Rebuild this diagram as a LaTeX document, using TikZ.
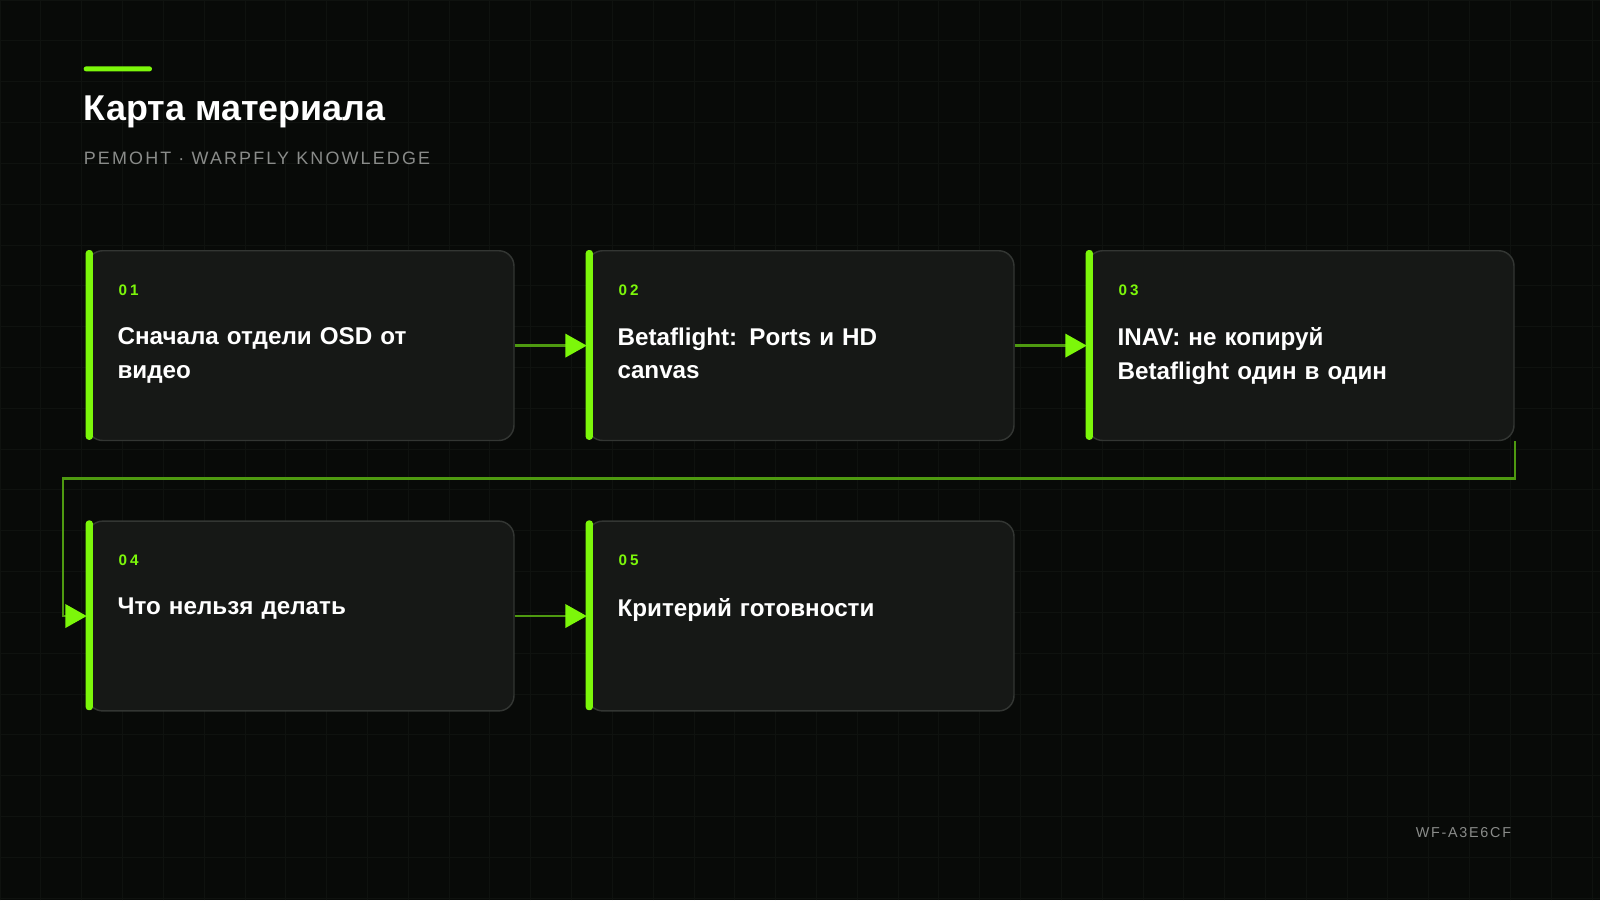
\documentclass[tikz,border=0pt]{standalone}
\usepackage{fontspec}
\setmainfont{Liberation Sans}
\usetikzlibrary{positioning, arrows.meta}
\definecolor{bgc}{HTML}{080A08}
\definecolor{cardc}{HTML}{161816}
\definecolor{edgec}{HTML}{333633}
\definecolor{limec}{HTML}{7CF70A}
\definecolor{linkc}{HTML}{4E9A10}
\definecolor{gridc}{HTML}{0F120F}
\definecolor{subc}{HTML}{8A8C8A}
\tikzset{
  card/.style={draw=edgec, line width=0.8pt, fill=cardc, rounded corners=0.3cm, minimum width=8.36cm, minimum height=3.72cm},
  num/.style={anchor=west, text=limec, font=\bfseries\fontsize{8.5}{10}\selectfont\addfontfeature{LetterSpace=20}},
  ttl/.style={anchor=north west, text=white, text width=7.4cm, align=left, font=\bfseries\fontsize{13.5}{18.7}\selectfont},
  link/.style={draw=linkc, line width=1.3pt, -{Triangle[length=0.42cm, width=0.46cm, fill=limec, color=limec]}}
}
\newcommand{\stepcard}[5]{%
  \node (#1) [card, anchor=north west] at (#2,#3) {};
  \fill[limec, rounded corners=0.06cm] ([xshift=-0.02cm]#1.north west) rectangle ++(0.14,-3.72);
  \node (#1n) [num] at ([xshift=0.5cm,yshift=-0.78cm]#1.north west) {#4};
  \node (#1t) [ttl] at ([xshift=0.48cm,yshift=-1.4cm]#1.north west) {#5};
}
\begin{document}
\begin{tikzpicture}
\fill[bgc] (0,0) rectangle (31.36,-17.64);
\useasboundingbox (0,0) rectangle (31.36,-17.64);
\draw[gridc, line width=0.4pt, step=0.8] (0,-17.64) grid (31.36,0);
% heading
\fill[limec, rounded corners=0.05cm] (1.64,-1.3) rectangle (2.98,-1.4);
\node (head) [anchor=west, text=white, font=\bfseries\fontsize{20}{23}\selectfont] at (1.52,-2.2) {Карта материала};
\node (sub) [anchor=west, text=subc, font=\fontsize{10}{12}\selectfont\addfontfeature{LetterSpace=12}] at (1.52,-3.1) {РЕМОНТ · WARPFLY KNOWLEDGE};
% cards
\stepcard{s1}{1.7}{-4.9}{01}{Сначала отдели OSD от\\видео}
\stepcard{s2}{11.5}{-4.9}{02}{Betaflight: Ports и HD\\canvas}
\stepcard{s3}{21.3}{-4.9}{03}{INAV: не копируй\\Betaflight один в один}
\stepcard{s4}{1.7}{-10.2}{04}{Что нельзя делать}
\stepcard{s5}{11.5}{-10.2}{05}{Критерий готовности}
% links
\draw[link] (s1.east) -- (s2.west);
\draw[link] (s2.east) -- (s3.west);
\draw[link] (s4.east) -- (s5.west);
\coordinate (turn) at (1.24,-9.38);
\draw[link] (s3.south east) -- (s3.south east |- turn) -- (turn) |- (s4.west);
% footer
\node (tag) [anchor=east, text=subc, font=\fontsize{8}{10}\selectfont\addfontfeature{LetterSpace=12}] at (29.74,-16.32) {WF-A3E6CF};
\end{tikzpicture}
\end{document}
